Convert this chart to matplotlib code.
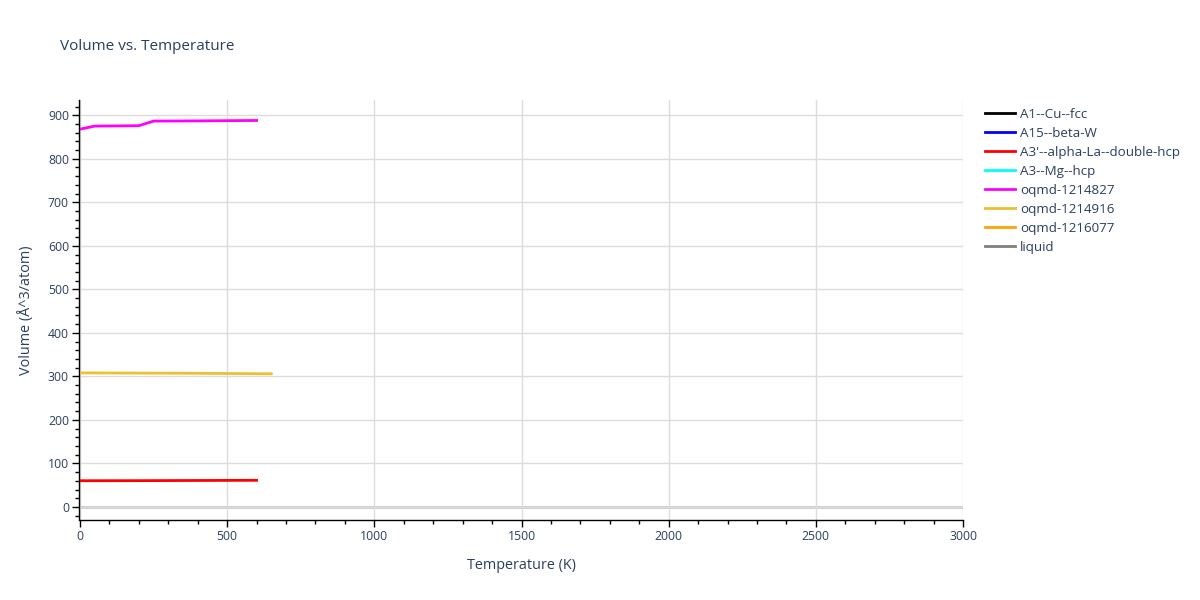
import matplotlib
matplotlib.use("Agg")
import matplotlib.pyplot as plt
from matplotlib.ticker import MultipleLocator
from matplotlib.lines import Line2D

plt.rcParams['font.family'] = ['Open Sans', 'DejaVu Sans']

# phase names and colours (legend order)
phases = ["A1--Cu--fcc", "A15--beta-W", "A3'--alpha-La--double-hcp", "A3--Mg--hcp",
          "oqmd-1214827", "oqmd-1214916", "oqmd-1216077", "liquid"]
colors = ["black", "blue", "red", "cyan", "magenta", "#ebc033", "orange", "gray"]

# curves (only three are visible)
temp_red = [0, 100, 200, 300, 400, 500, 600]
vol_red = [60.2, 60.3, 60.4, 60.6, 60.8, 61.0, 61.2]

temp_mag = [0, 50, 200, 250, 400, 600]
vol_mag = [868, 875, 876, 886.5, 887, 888]

temp_yel = [0, 200, 400, 650]
vol_yel = [308, 307.5, 307, 306]

curves = {
    "A3'--alpha-La--double-hcp": (temp_red, vol_red),
    "oqmd-1214827": (temp_mag, vol_mag),
    "oqmd-1214916": (temp_yel, vol_yel),
}

txt = "#2a3f5f"

fig = plt.figure(figsize=(12, 6), dpi=100)
ax = fig.add_axes([80 / 1200, 80 / 600, 883 / 1200, 420 / 600])

for name, col in zip(phases, colors):
    if name in curves:
        t, v = curves[name]
        ax.plot(t, v, color=col, lw=2, zorder=3)

ax.set_xlim(0, 3000)
ax.set_ylim(-30, 935)
ax.xaxis.set_major_locator(MultipleLocator(500))
ax.xaxis.set_minor_locator(MultipleLocator(100))
ax.yaxis.set_major_locator(MultipleLocator(100))
ax.yaxis.set_minor_locator(MultipleLocator(20))

ax.grid(True, which='major', color='#dcdcdc', lw=1, zorder=0)
ax.axhline(0, color='#c8c8c8', lw=2, zorder=1)

for s in ['top', 'right']:
    ax.spines[s].set_visible(False)
for s in ['left', 'bottom']:
    ax.spines[s].set_color('black')
    ax.spines[s].set_linewidth(1)
ax.spines['left'].set_position(('outward', 1))

ax.tick_params(which='major', direction='out', length=5, width=1, color='black',
               labelsize=8.8, labelcolor=txt, pad=2)
ax.tick_params(which='minor', direction='out', length=3, width=1, color='black')

ax.set_xlabel("Temperature (K)", fontsize=10.4, color=txt, labelpad=11)
ax.set_ylabel("Volume (Å^3/atom)", fontsize=10.4, color=txt, labelpad=10)

fig.text(60 / 1200, 1 - 46 / 600, "Volume vs. Temperature", fontsize=11,
         color=txt, va='center', ha='left')

# legend
handles = [Line2D([0], [0], color=c, lw=2) for c in colors]
leg = fig.legend(handles, phases, loc='upper left', bbox_to_anchor=(985 / 1200, 1 - 108 / 600),
                 frameon=False, fontsize=9.6, handlelength=2.25, handletextpad=0.38,
                 labelspacing=0.45, borderaxespad=0, borderpad=0)
for t in leg.get_texts():
    t.set_color(txt)

fig.savefig("out.png", dpi=100, facecolor='white')
